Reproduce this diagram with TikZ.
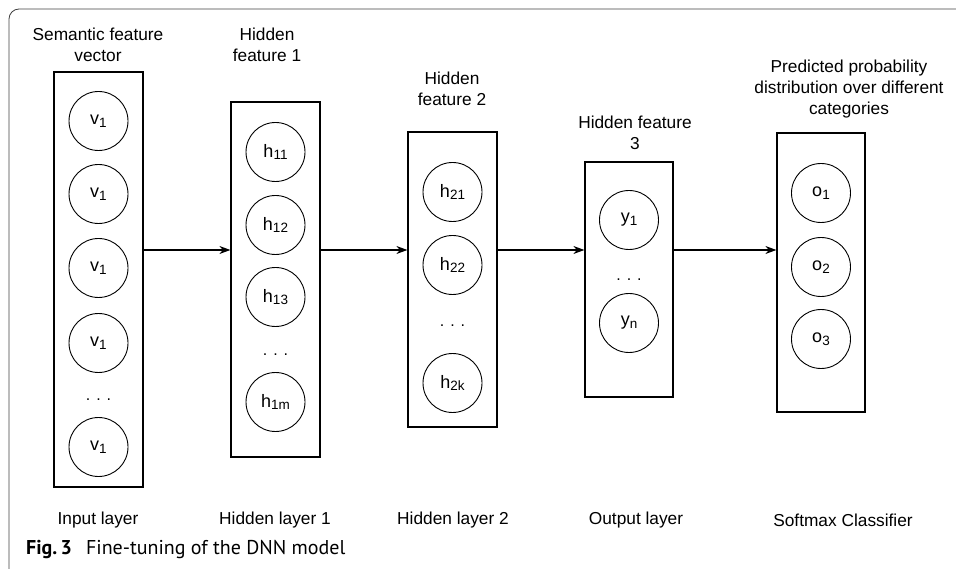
\documentclass[tikz,border=0pt]{standalone}
\usepackage{fontspec}
\setmainfont{Liberation Sans}
\newfontfamily\capfont{PT Sans}
\usetikzlibrary{arrows.meta}
\newcommand\mysub[1]{\raisebox{-2.5pt}{\fontsize{13.5}{15}\selectfont #1}}
\begin{document}
\begin{tikzpicture}[x=1pt,y=-1pt,
  layerbox/.style={draw, line width=1.2pt, inner sep=0pt, minimum width=89pt},
  unit/.style={draw, circle, minimum size=59pt, inner sep=0pt, line width=0.9pt, font=\fontsize{18}{20}\selectfont},
  dotsl/.style={inner sep=0pt, font=\fontsize{16}{18}\selectfont},
  lbl/.style={align=center, font=\fontsize{17.3}{21}\selectfont, inner sep=0pt},
  conn/.style={-{Stealth[length=11pt,width=8pt]}, line width=1.2pt}]
\useasboundingbox (0,0) rectangle (956,569);
\begin{scope}
\clip (0,0) rectangle (956,569);
\draw[line width=0.8pt, black!75, rounded corners=10pt] (9,9) rectangle (990,590);
\end{scope}

% layer boxes
\node[layerbox, minimum height=415pt] (L1) at (98.5,279.5) {};
\node[layerbox, minimum height=355pt] (L2) at (275.5,279.5) {};
\node[layerbox, minimum height=295pt] (L3) at (452.5,279.5) {};
\node[layerbox, minimum height=235pt, minimum width=88pt] (L4) at (629,279.5) {};
\node[layerbox, minimum height=279pt, minimum width=88pt] (L5) at (821,272.5) {};

% input units
\node[unit] (v1) at (98.5,121) {v\mysub{1}};
\node[unit] (v2) at (98.5,194) {v\mysub{1}};
\node[unit] (v3) at (98.5,268) {v\mysub{1}};
\node[unit] (v4) at (98.5,343) {v\mysub{1}};
\node[dotsl] (vd) at (98.5,400) {. . .};
\node[unit] (v5) at (98.5,447) {v\mysub{1}};

% hidden 1
\node[unit] (h11) at (275.5,152) {h\mysub{11}};
\node[unit] (h12) at (275.5,225) {h\mysub{12}};
\node[unit] (h13) at (275.5,297) {h\mysub{13}};
\node[dotsl] (h1d) at (275.5,355) {. . .};
\node[unit] (h1m) at (275.5,402) {h\mysub{1m}};

% hidden 2
\node[unit] (h21) at (452.5,192) {h\mysub{21}};
\node[unit] (h22) at (452.5,265) {h\mysub{22}};
\node[dotsl] (h2d) at (452.5,326) {. . .};
\node[unit] (h2k) at (452.5,383) {h\mysub{2k}};

% hidden 3
\node[unit] (y1) at (629,220) {y\mysub{1}};
\node[dotsl] (yd) at (629,280) {. . .};
\node[unit] (yn) at (629,323) {y\mysub{n}};

% softmax
\node[unit] (o1) at (821,193) {o\mysub{1}};
\node[unit] (o2) at (821,267) {o\mysub{2}};
\node[unit] (o3) at (821,339) {o\mysub{3}};

% connectors
\coordinate (ay) at (0,250);
\draw[conn] (L1.east |- ay) -- (L2.west |- ay);
\draw[conn] (L2.east |- ay) -- (L3.west |- ay);
\draw[conn] (L3.east |- ay) -- (L4.west |- ay);
\draw[conn] (L4.east |- ay) -- (L5.west |- ay);

% top labels
\node[lbl] (t1) at (98,44.5) {Semantic feature\\vector};
\node[lbl] (t2) at (267,44.5) {Hidden\\feature 1};
\node[lbl] (t3) at (452,88.5) {Hidden\\feature 2};
\node[lbl] (t4) at (635,133) {Hidden feature\\3};
\node[lbl] (t5) at (849,89) {Predicted probability\\distribution over different\\categories};

% bottom labels
\node[lbl] (b1) at (98,520) {Input layer};
\node[lbl] (b2) at (275,520) {Hidden layer 1};
\node[lbl] (b3) at (453,520) {Hidden layer 2};
\node[lbl] (b4) at (636,520) {Output layer};
\node[lbl] (b5) at (843,520) {Softmax Classifier};

% caption
\node[anchor=west, inner sep=0pt, font=\capfont\fontsize{20}{22}\selectfont] (cap) at (26,550)
  {{\bfseries Fig.\,3}\hspace{14pt}Fine-tuning of the DNN model};
\end{tikzpicture}
\end{document}
